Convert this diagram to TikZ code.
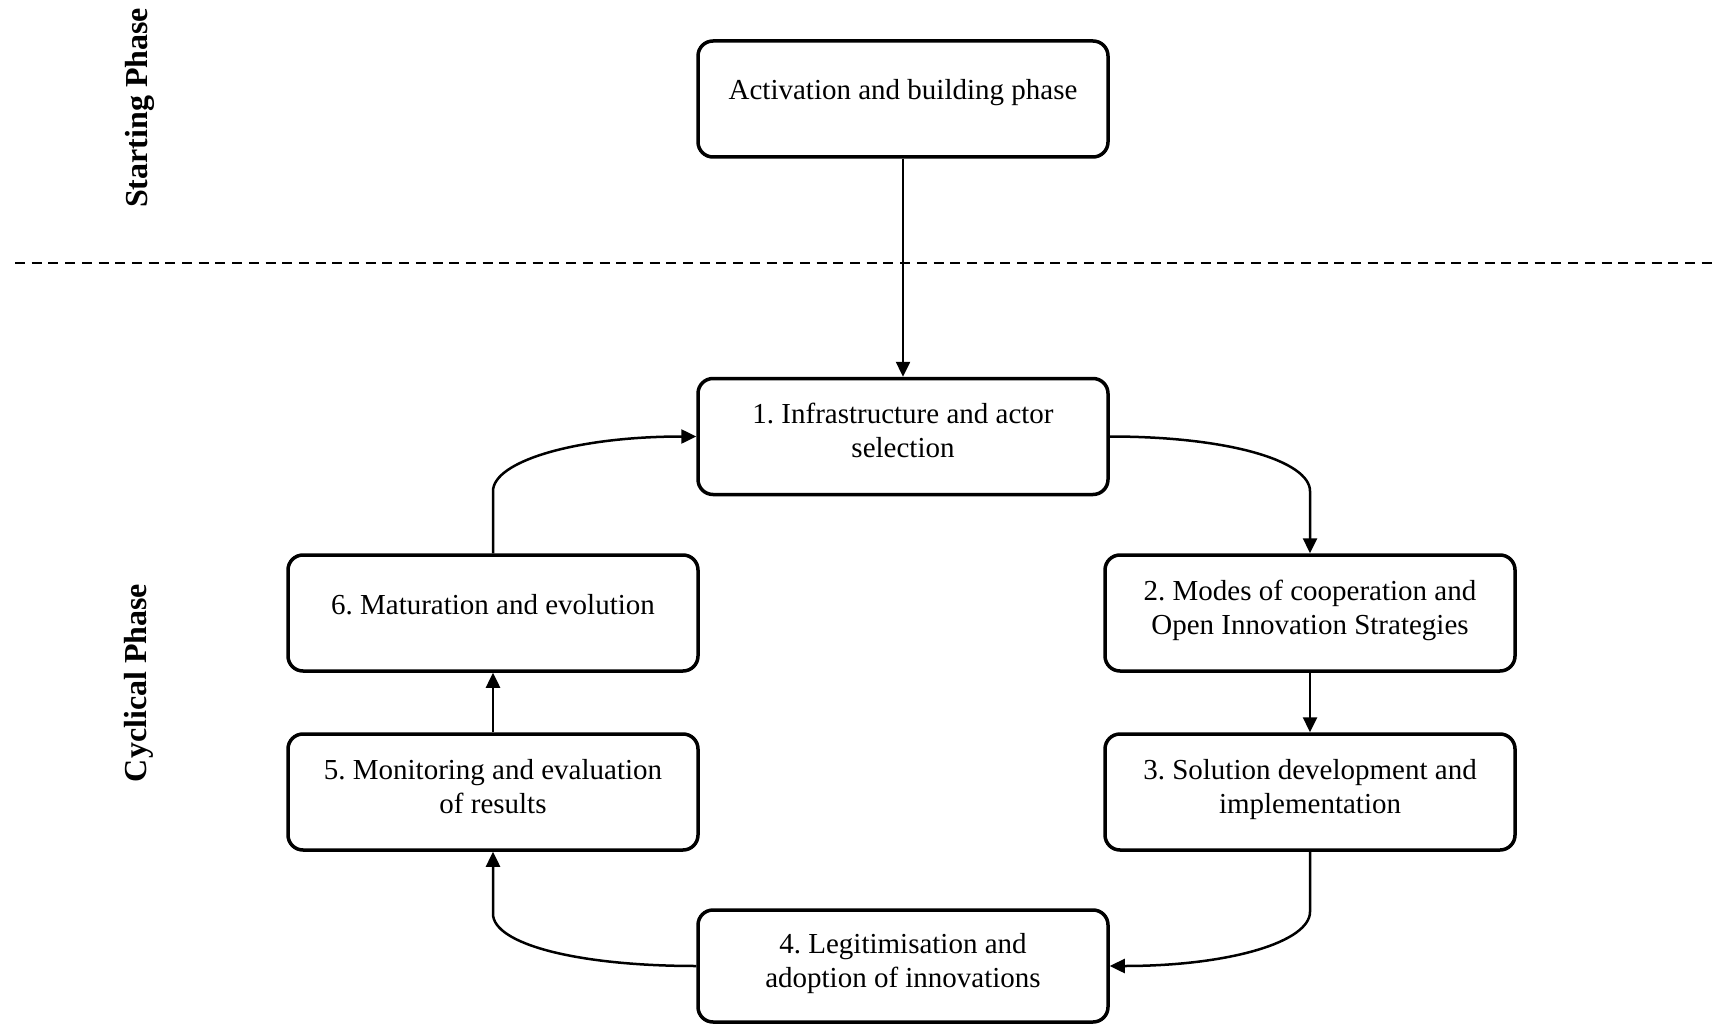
\documentclass[tikz,border=0pt]{standalone}
\usepackage{fontspec}
\setmainfont{Liberation Serif}
\usetikzlibrary{arrows.meta,calc}
\frenchspacing
\newcommand\tstrut{\rule{0pt}{22pt}}
\newcommand\ttstrut{\rule{0pt}{30pt}}
\newcommand\bstrut{\rule[-22pt]{0pt}{22pt}}
\begin{document}
\begin{tikzpicture}[x=1pt,y=-1pt,
  box/.style={draw, line width=3.5pt, rounded corners=15pt, minimum width=410pt,
    minimum height=116pt, align=center, inner sep=0pt,
    font=\fontsize{29}{34}\selectfont},
  arr/.style={line width=2.5pt, -{Triangle[length=15pt,width=14pt]}},
  phase/.style={rotate=90, font=\bfseries\fontsize{32}{38}\selectfont, inner sep=0pt}]
\useasboundingbox (0,0) rectangle (1713,1024);
\fill[white] (0,0) rectangle (1713,1024);

\node[phase] (sp) at (140,108) {Starting Phase};
\node[phase] (cp) at (139,683) {Cyclical Phase};
\coordinate (dl) at (15,263);
\coordinate (dr) at (1713,263);
\draw[line width=2.5pt, dash pattern=on 10pt off 6.7pt] (dl) -- (dr);

\node[box] (top) at (903,99) {\rule{0pt}{24pt}Activation and building phase\bstrut};
\node[box] (b1) at (903,436.5) {\ttstrut 1. Infrastructure and actor\\selection\bstrut};
\node[box] (b2) at (1310,613) {\ttstrut 2. Modes of cooperation and\\Open Innovation Strategies\bstrut};
\node[box] (b3) at (1310,792) {\ttstrut 3. Solution development and\\implementation\bstrut};
\node[box, minimum height=112pt] (b4) at (903,966) {\ttstrut 4. Legitimisation and\\adoption of innovations\bstrut};
\node[box] (b5) at (493,792) {\ttstrut 5. Monitoring and evaluation\\of results\bstrut};
\node[box] (b6) at (493,613) {\rule{0pt}{24pt}6. Maturation and evolution\bstrut};

\draw[arr] (top) -- (b1);
\draw[arr] (b1.east) .. controls +(120,0) and +(0,-30) .. ($(b2.north)+(0,-62)$) -- (b2.north);
\draw[arr] (b2) -- (b3);
\draw[arr] (b3.south) -- ++(0,60) .. controls +(0,30) and +(120,0) .. (b4.east);
\draw[arr] (b4.west) .. controls +(-120,0) and +(0,30) .. ($(b5.south)+(0,62)$) -- (b5.south);
\draw[arr] (b5) -- (b6);
\draw[arr] (b6.north) -- ++(0,-62) .. controls +(0,-30) and +(-120,0) .. (b1.west);
\end{tikzpicture}
\end{document}
